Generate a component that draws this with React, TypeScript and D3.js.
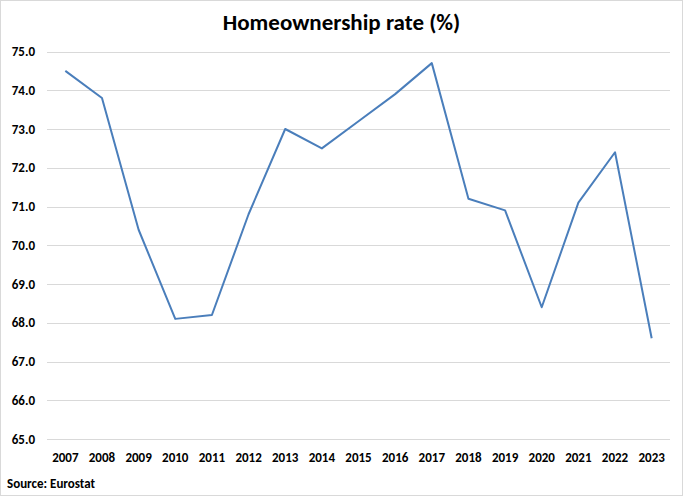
import React, { useEffect, useRef } from 'react';
import * as d3 from 'd3';

const years = ['2007', '2008', '2009', '2010', '2011', '2012', '2013', '2014', '2015', '2016', '2017', '2018', '2019', '2020', '2021', '2022', '2023'];
const rates = [74.5, 73.8, 70.4, 68.1, 68.2, 70.8, 73.0, 72.5, 73.2, 73.9, 74.7, 71.2, 70.9, 68.4, 71.1, 72.4, 67.6];
const yTicks = [65, 66, 67, 68, 69, 70, 71, 72, 73, 74, 75];

const W = 683;
const H = 496;
const FONT = 'Carlito, Lato, "Open Sans", sans-serif';

const App: React.FC = () => {
  const ref = useRef<SVGSVGElement | null>(null);

  useEffect(() => {
    if (!ref.current) return;
    const margin = { top: 51.5, right: 13, bottom: 57, left: 47 };

    const x = d3.scaleBand<string>().domain(years).range([margin.left, W - margin.right]);
    const y = d3.scaleLinear().domain([65, 75]).range([H - margin.bottom, margin.top]);

    const svg = d3.select(ref.current);
    svg.selectAll('*').remove();

    svg.append('rect')
      .attr('x', 0.5).attr('y', 0.5)
      .attr('width', W - 1).attr('height', H - 1)
      .attr('fill', '#fff')
      .attr('stroke', '#d9d9d9');

    // gridlines
    svg.append('g')
      .selectAll('line')
      .data(yTicks)
      .join('line')
      .attr('x1', margin.left).attr('x2', W - margin.right)
      .attr('y1', d => Math.round(y(d)) + 0.5).attr('y2', d => Math.round(y(d)) + 0.5)
      .attr('stroke', '#d9d9d9')
      .attr('stroke-width', 1);

    // y labels
    svg.append('g')
      .selectAll('text')
      .data(yTicks)
      .join('text')
      .attr('x', 35)
      .attr('y', d => y(d))
      .attr('dy', '0.35em')
      .attr('text-anchor', 'end')
      .attr('font-family', FONT)
      .attr('font-weight', 'bold')
      .attr('font-size', 13)
      .text(d => d.toFixed(1));

    // x labels
    svg.append('g')
      .selectAll('text')
      .data(years)
      .join('text')
      .attr('x', d => (x(d) as number) + x.bandwidth() / 2)
      .attr('y', 457)
      .attr('dy', '0.35em')
      .attr('text-anchor', 'middle')
      .attr('font-family', FONT)
      .attr('font-weight', 'bold')
      .attr('font-size', 13)
      .text(d => d);

    const line = d3.line<number>()
      .x((_, i) => (x(years[i]) as number) + x.bandwidth() / 2)
      .y(d => y(d));

    svg.append('path')
      .datum(rates)
      .attr('fill', 'none')
      .attr('stroke', '#4a7ebb')
      .attr('stroke-width', 2)
      .attr('stroke-linejoin', 'round')
      .attr('d', line);

    svg.append('text')
      .attr('x', W / 2)
      .attr('y', 22)
      .attr('dy', '0.35em')
      .attr('text-anchor', 'middle')
      .attr('font-family', FONT)
      .attr('font-weight', 'bold')
      .attr('font-size', 23)
      .text('Homeownership rate (%)');

    svg.append('text')
      .attr('x', 7)
      .attr('y', 483)
      .attr('dy', '0.35em')
      .attr('font-family', FONT)
      .attr('font-weight', 'bold')
      .attr('font-size', 13)
      .text('Source: Eurostat');
  }, []);

  return (
    <svg
      ref={ref}
      width={W}
      height={H}
      style={{ position: 'absolute', left: 0, top: 0, display: 'block' }}
    />
  );
};

export default App;
